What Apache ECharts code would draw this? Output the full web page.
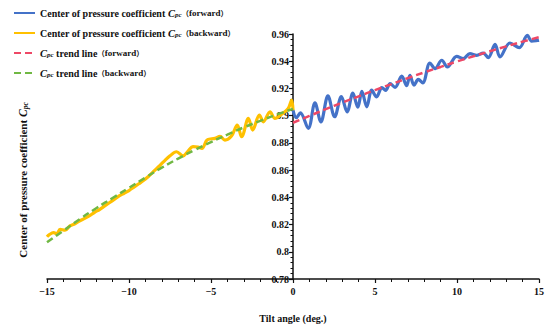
<!DOCTYPE html>
<html>
<head>
<meta charset="utf-8">
<script src="https://cdn.jsdelivr.net/npm/echarts@6/dist/echarts.min.js"></script>
<style>html,body{margin:0;padding:0;background:#fff}#c{width:550px;height:332px}</style>
</head>
<body>
<div id="c"></div>
<script>
// ---- data ----
var xTicks = [-15, -10, -5, 0, 5, 10, 15];
var yTicks = [0.78, 0.80, 0.82, 0.84, 0.86, 0.88, 0.90, 0.92, 0.94, 0.96];

var forwardAngle = [0.00,0.20,0.45,0.93,1.34,1.70,2.13,2.54,2.95,3.30,3.65,3.95,4.20,4.50,4.80,5.10,5.42,5.65,5.92,6.22,6.63,6.93,7.13,7.38,7.64,7.91,8.35,8.66,9.07,9.41,9.98,10.38,10.79,11.20,11.60,11.91,12.32,12.62,13.23,13.80,14.29,14.55,14.92,15.00];
var forwardCpc   = [0.9040,0.8985,0.9020,0.8907,0.9094,0.8955,0.9145,0.8992,0.9140,0.9028,0.9165,0.9062,0.9178,0.9065,0.9187,0.9138,0.9207,0.9185,0.9236,0.9208,0.9290,0.9220,0.9297,0.9224,0.9266,0.9241,0.9387,0.9346,0.9407,0.9358,0.9436,0.9419,0.9456,0.9443,0.9460,0.9427,0.9524,0.9431,0.9534,0.9500,0.9590,0.9548,0.9553,0.9555];

var backwardAngle = [-15.0,-14.86,-14.6,-14.4,-14.2,-13.9,-13.6,-13.3,-13.0,-12.7,-12.4,-12.1,-11.8,-11.5,-11.2,-10.9,-10.6,-10.3,-10.0,-9.7,-9.4,-9.1,-8.8,-8.5,-8.2,-7.9,-7.5,-7.1,-6.7,-6.4,-6.1,-5.8,-5.55,-5.25,-4.95,-4.75,-4.45,-4.15,-3.75,-3.40,-3.13,-2.72,-2.46,-2.05,-1.81,-1.40,-1.10,-0.69,-0.29,-0.08,0.00];
var backwardCpc   = [0.8110,0.8126,0.8140,0.8132,0.8165,0.8158,0.8190,0.8205,0.8228,0.8245,0.8265,0.8290,0.8310,0.8335,0.8360,0.8385,0.8410,0.8430,0.8450,0.8475,0.8500,0.8525,0.8555,0.8590,0.8625,0.8660,0.8705,0.8735,0.8705,0.8740,0.8772,0.8770,0.8760,0.8821,0.8830,0.8833,0.8848,0.8821,0.8850,0.8931,0.8845,0.8980,0.8894,0.9004,0.8955,0.9028,0.8980,0.9011,0.9053,0.9114,0.9040];

var trendFwdAngle = [0,1,2,3,4,5,6,7,8,9,10,11,12,13,14,15];
var trendFwdCpc   = [0.8948,0.8998,0.9048,0.9096,0.9142,0.9188,0.9232,0.9276,0.9318,0.9358,0.9398,0.9436,0.9473,0.9509,0.9544,0.9577];

var trendBwdAngle = [-15,-14,-13,-12,-11,-10,-9,-8,-7,-6,-5,-4,-3,-2,-1,0];
var trendBwdCpc   = [0.8070,0.8155,0.8240,0.8320,0.8395,0.8470,0.8545,0.8618,0.8685,0.8747,0.8806,0.8861,0.8914,0.8962,0.9008,0.9050];

var seriesNames = [
  'Center of pressure coefficient Cpc（forward）',
  'Center of pressure coefficient Cpc（backward）',
  'Cpc trend line（forward）',
  'Cpc trend line（backward）'
];

function pairs(a, b) { return a.map(function (v, i) { return [v, b[i]]; }); }

var FONT = 'Liberation Serif';
var rich = {
  b: { fontFamily: FONT, fontWeight: 'bold', fontSize: 10, color: '#111' },
  q: { fontFamily: FONT, fontWeight: 'bold', fontSize: 9, color: '#111' },
  i: { fontFamily: FONT, fontStyle: 'italic', fontWeight: 'bold', fontSize: 10.5, color: '#111' },
  s: { fontFamily: FONT, fontStyle: 'italic', fontWeight: 'bold', fontSize: 7, color: '#111', padding: [4, 0, 0, 0] },
  p: { fontFamily: 'Noto Sans CJK SC', fontWeight: 'bold', fontSize: 7.5, color: '#111' }
};

var chart = echarts.init(document.getElementById('c'), null, { renderer: 'svg' });
chart.setOption({
  animation: false,
  backgroundColor: '#fff',
  grid: { left: 47, right: 11, top: 34, bottom: 53, containLabel: false },
  legend: {
    orient: 'vertical', left: 8, top: 2, itemWidth: 21, itemHeight: 10, itemGap: 8,
    data: seriesNames,
    itemStyle: { opacity: 0 },
    textStyle: { rich: rich, lineHeight: 12 },
    formatter: function (name) {
      var m = name.match(/^(.*?)Cpc(.*?)（(.*)）$/);
      var pre = m[1], mid = m[2], paren = m[3];
      var out = '';
      if (pre) out += '{b|' + pre + '}';
      out += '{i|C}{s|pc}';
      if (mid) out += '{b|' + mid + '}';
      out += '{p|（}{q|' + paren + '}{p|）}';
      return out;
    }
  },
  xAxis: {
    type: 'value', min: -15, max: 15, interval: 5,
    name: 'Tilt angle (deg.)', nameLocation: 'middle', nameGap: 34,
    nameTextStyle: { fontFamily: FONT, fontWeight: 'bold', fontSize: 10, color: '#111' },
    axisLine: { onZero: false, lineStyle: { color: '#111', width: 1.5 } },
    axisTick: { show: true, length: 4, lineStyle: { color: '#111', width: 1.2 } },
    minorTick: { show: true, splitNumber: 5, length: 3, lineStyle: { color: '#111', width: 1 } },
    splitLine: { show: false },
    axisLabel: {
      fontFamily: FONT, fontWeight: 'bold', fontSize: 10, color: '#111', margin: 7,
      formatter: function (v) { return xTicks.indexOf(v) >= 0 ? (v < 0 ? '\u2212' + Math.abs(v) : String(v)) : ''; }
    }
  },
  yAxis: {
    type: 'value', min: 0.78, max: 0.96, interval: 0.02,
    offset: -246,
    axisLine: { show: true, onZero: false, lineStyle: { color: '#111', width: 1.5 } },
    axisTick: { show: true, length: 4, lineStyle: { color: '#111', width: 1.2 } },
    minorTick: { show: true, splitNumber: 5, length: 2.5, lineStyle: { color: '#111', width: 1 } },
    splitLine: { show: false },
    axisLabel: {
      fontFamily: FONT, fontWeight: 'bold', fontSize: 10, color: '#111', margin: 4,
      formatter: function (v) {
        var r = Math.round(v * 100) / 100;
        return String(r);
      }
    }
  },
  graphic: [{
    type: 'text', x: 23, y: 180, rotation: Math.PI / 2,
    style: {
      text: '{b|Center of pressure coefficient }{i|C}{s|pc}',
      align: 'center', verticalAlign: 'middle',
      rich: {
        b: { fontFamily: FONT, fontWeight: 'bold', fontSize: 11, fill: '#111' },
        i: { fontFamily: FONT, fontStyle: 'italic', fontWeight: 'bold', fontSize: 11.5, fill: '#111' },
        s: { fontFamily: FONT, fontStyle: 'italic', fontWeight: 'bold', fontSize: 7.5, fill: '#111', padding: [4, 0, 0, 0] }
      }
    }
  }],
  series: [
    { name: seriesNames[0], type: 'line', data: pairs(forwardAngle, forwardCpc), smooth: 0.35, symbol: 'none',
      lineStyle: { color: '#4472C8', width: 3.2 }, itemStyle: { color: '#4472C8' } },
    { name: seriesNames[1], type: 'line', data: pairs(backwardAngle, backwardCpc), smooth: 0.35, symbol: 'none',
      lineStyle: { color: '#FFC000', width: 3.2 }, itemStyle: { color: '#FFC000' } },
    { name: seriesNames[2], type: 'line', data: pairs(trendFwdAngle, trendFwdCpc), smooth: true, symbol: 'none',
      lineStyle: { color: '#EE4866', width: 2.5, type: [7, 4] }, itemStyle: { color: '#EE4866' } },
    { name: seriesNames[3], type: 'line', data: pairs(trendBwdAngle, trendBwdCpc), smooth: true, symbol: 'none',
      lineStyle: { color: '#70B843', width: 2.5, type: [7, 4] }, itemStyle: { color: '#70B843' } }
  ]
});
</script>
</body>
</html>
